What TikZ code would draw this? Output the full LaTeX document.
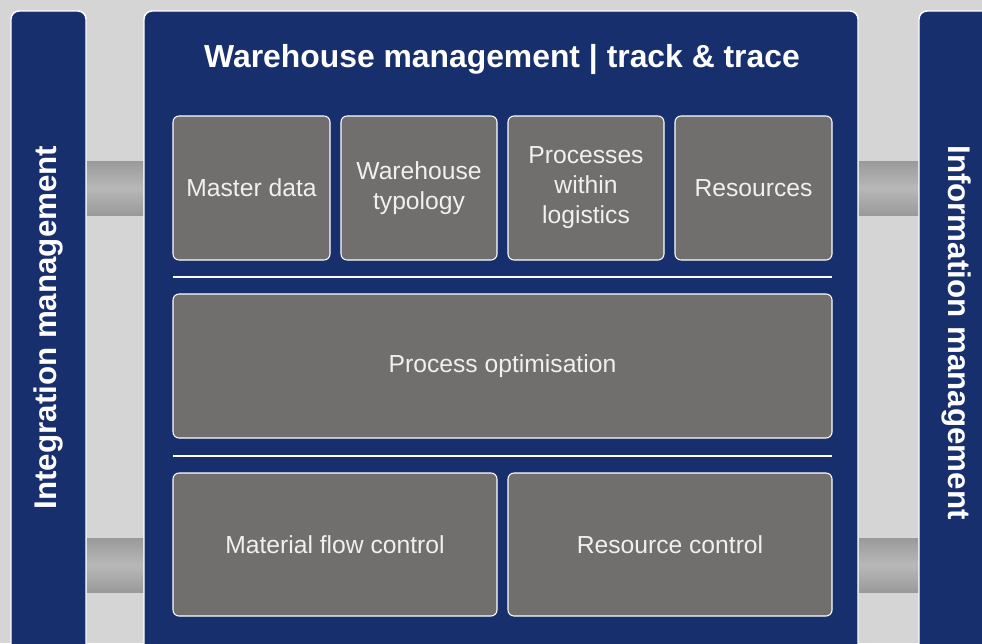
\documentclass[tikz,border=0pt]{standalone}
\usepackage{fontspec}
\setmainfont{Liberation Sans}
\usetikzlibrary{positioning}
\definecolor{navy}{HTML}{182F6E}
\definecolor{boxgray}{HTML}{706F6D}
\definecolor{boxtext}{HTML}{F0F0F0}
\definecolor{backgray}{HTML}{D6D5D6}
\definecolor{pipedark}{HTML}{9A9A9A}
\definecolor{pipelight}{HTML}{B8B8B8}

\begin{document}
\begin{tikzpicture}[x = 0.75pt, y = -0.75pt,
        panel/.style = {draw = white, fill = navy, line width = 1.1pt, rounded corners = 6pt},
        box/.style = {draw = white, fill = boxgray, line width = 0.8pt, rounded corners = 4.5pt, text = boxtext, align = center, font = \fontsize{18.5}{22.5}\selectfont, minimum height = 108pt, inner sep = 0pt},
        pipe/.style = {top color = pipedark, bottom color = pipedark, middle color = pipelight},
        heading/.style = {text = white, font = \fontsize{23.5}{28}\selectfont\bfseries, inner sep = 0pt},
        divider/.style = {draw = white, line width = 1.4pt},
    ]
    \clip (0,0) rectangle (982,643);
    \fill[backgray] (0,0) rectangle (982,643);

    % side and main panels
    \draw[panel] (11,11) rectangle (86,700);
    \draw[panel] (144,11) rectangle (858,700);
    \draw[panel] (919,11) rectangle (1010,700);

    % pipes between the panels
    \shade[pipe] (87,161) rectangle (143,215);
    \shade[pipe] (87,538) rectangle (143,592);
    \shade[pipe] (859,161) rectangle (918,215);
    \shade[pipe] (859,538) rectangle (918,592);

    \node[heading, rotate = 90] (integration) at (48,327.5) {Integration management};
    \node[heading, rotate = -90] (information) at (957,332.5) {Information management};
    \node[heading, anchor = base, font = \fontsize{23.9}{28}\selectfont\bfseries] (title) at (502,67) {Warehouse management | track \& trace};

    % first row
    \node[box, minimum width = 117.75pt] (master) at (251.5,188) {Master data};
    \node[box, minimum width = 117pt] (typology) at (419,188) {Warehouse\\typology};
    \node[box, minimum width = 117pt] (processes) at (586,188) {Processes\\within\\logistics};
    \node[box, minimum width = 117.75pt] (resources) at (753.5,188) {Resources};

    \draw[divider] (173,277) -- (832,277);

    % second row
    \node[box, minimum width = 494.25pt] (optimisation) at (502.5,366) {Process optimisation};

    \draw[divider] (173,456) -- (832,456);

    % third row
    \node[box, minimum width = 243pt, minimum height = 107.25pt] (flow) at (335,544.5) {Material flow control};
    \node[box, minimum width = 243pt, minimum height = 107.25pt] (rescontrol) at (670,544.5) {Resource control};
\end{tikzpicture}
\end{document}
